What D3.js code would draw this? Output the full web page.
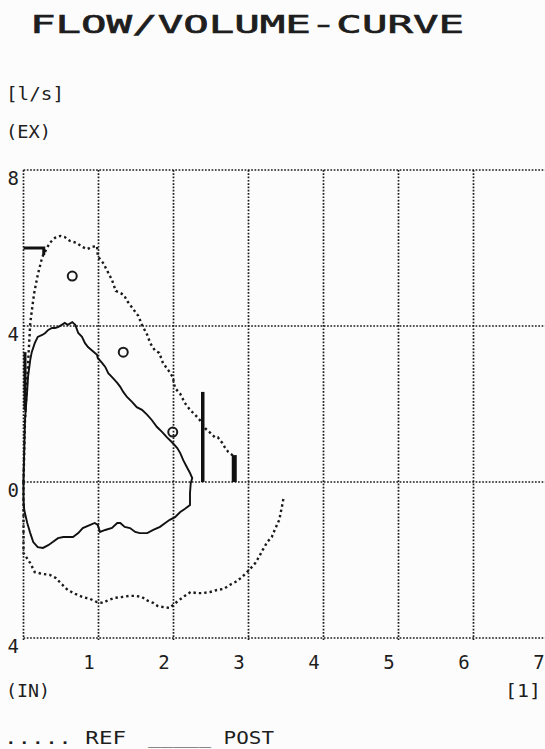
<!DOCTYPE html>
<html>
<head>
<meta charset="utf-8">
<script src="https://cdn.jsdelivr.net/npm/d3@7"></script>
<style>
  html, body { margin: 0; padding: 0; background: #fcfcfc; }
  svg { display: block; }
  text { font-family: 'DejaVu Sans Mono', monospace; fill: #1e1e1e; }
</style>
</head>
<body>
<div class="chart"></div>
<script>
'use strict';

// Data (volume [l], flow [l/s])
const xTicks = [1, 2, 3, 4, 5, 6, 7];
const xTickLabels = ['1', '2', '3', '4', '5', '6', '7'];
const yTicks = [8, 4, 0, -4];
const yTickLabels = ['8', '4', '0', '4'];

// REF curve (dotted)
const refVolume = [0, 0.02, 0.09, 0.14, 0.19, 0.25, 0.35, 0.42, 0.49, 0.55, 0.62, 0.71, 0.78, 0.85, 0.91, 0.98,
  0.99, 1.06, 1.11, 1.18, 1.23, 1.29, 1.34, 1.39, 1.46, 1.53, 1.58, 1.65, 1.69, 1.75, 1.81, 1.86, 1.93, 1.99,
  2.02, 2.09, 2.15, 2.22, 2.29, 2.35, 2.42, 2.49, 2.55, 2.59, 2.65, 2.69, 2.73, 2.80];
const refFlow = [0, 1.59, 4.08, 4.82, 5.31, 5.77, 6.13, 6.26, 6.31, 6.28, 6.18, 6.13, 6.03, 5.97, 6.03, 6.05,
  5.79, 5.62, 5.44, 5.18, 4.90, 4.85, 4.79, 4.62, 4.44, 4.26, 4.03, 3.77, 3.56, 3.38, 3.31, 3.05, 2.87, 2.69,
  2.41, 2.26, 2.03, 1.85, 1.72, 1.59, 1.38, 1.26, 1.15, 1.15, 1.00, 0.87, 0.77, 0.67];
const refInVolume = [0, 0, 0.09, 0.15, 0.26, 0.35, 0.43, 0.51, 0.59, 0.69, 0.79, 0.89, 0.98, 1.06, 1.13, 1.22,
  1.31, 1.41, 1.50, 1.58, 1.66, 1.73, 1.79, 1.87, 1.95, 2.01, 2.06, 2.15, 2.23, 2.31, 2.39, 2.49, 2.58, 2.67,
  2.75, 2.83, 2.90, 2.97, 3.03, 3.09, 3.14, 3.19, 3.25, 3.31, 3.35, 3.41, 3.45, 3.47];
const refInFlow = [0, -1.82, -2.08, -2.31, -2.36, -2.38, -2.46, -2.62, -2.77, -2.87, -2.95, -3.00, -3.08, -3.10,
  -3.03, -2.97, -2.95, -2.92, -2.92, -2.95, -3.05, -3.10, -3.18, -3.21, -3.23, -3.13, -3.05, -2.92, -2.82,
  -2.85, -2.85, -2.82, -2.77, -2.74, -2.64, -2.56, -2.46, -2.33, -2.21, -2.08, -1.92, -1.74, -1.54, -1.41,
  -1.23, -0.97, -0.59, -0.38];

// POST curve (solid loop)
const postVolume = [0, 0.02, 0.05, 0.06, 0.09, 0.11, 0.15, 0.19, 0.25, 0.29, 0.33, 0.38, 0.42, 0.46, 0.51, 0.55,
  0.59, 0.65, 0.69, 0.73, 0.78, 0.82, 0.86, 0.91, 0.98, 0.99, 1.05, 1.09, 1.13, 1.19, 1.25, 1.29, 1.33, 1.38,
  1.45, 1.51, 1.58, 1.65, 1.71, 1.78, 1.85, 1.91, 1.99, 2.05, 2.09, 2.13, 2.17, 2.22, 2.25, 2.23, 2.22, 2.22,
  2.15, 2.09, 2.02, 1.95, 1.89, 1.82, 1.73, 1.65, 1.55, 1.49, 1.42, 1.35, 1.29, 1.25, 1.18, 1.09, 1.02, 0.99,
  0.95, 0.89, 0.79, 0.73, 0.66, 0.53, 0.46, 0.39, 0.33, 0.26, 0.19, 0.13, 0.09, 0.05, 0.01, 0, 0];
const postFlow = [0, 1.59, 2.36, 2.69, 3.13, 3.33, 3.56, 3.72, 3.77, 3.82, 3.90, 3.95, 3.95, 3.97, 4.03, 4.08,
  4.03, 4.10, 4.03, 3.82, 3.72, 3.56, 3.46, 3.38, 3.26, 3.18, 3.05, 2.95, 2.79, 2.67, 2.54, 2.44, 2.31, 2.18,
  2.05, 1.92, 1.85, 1.72, 1.59, 1.41, 1.28, 1.15, 1.00, 0.87, 0.74, 0.56, 0.41, 0.23, 0.10, -0.03, -0.28, -0.59,
  -0.69, -0.77, -0.90, -0.97, -1.05, -1.15, -1.23, -1.31, -1.31, -1.28, -1.18, -1.15, -1.05, -1.05, -1.18,
  -1.23, -1.28, -1.10, -1.05, -1.10, -1.18, -1.31, -1.41, -1.41, -1.44, -1.54, -1.62, -1.69, -1.67, -1.54,
  -1.31, -1.05, -0.72, -0.46, 0];

// Predicted values (circles)
const predVolume = [0.65, 1.33, 1.99];
const predFlow = [5.28, 3.33, 1.28];

// Thick markers: volume, flow from, flow to
const barVolume = [0.02, 2.39, 2.81];
const barFrom = [1.85, 0, 0];
const barTo = [3.33, 2.31, 0.69];

// PEF marker
const pefVolume = [0, 0.27, 0.27];
const pefFlow = [6.0, 6.0, 5.82];

// Layout
const w = 545;
const h = 749;
const plotLeft = 23.5;
const plotTop = 170;
const plotBottom = 638;

const svg = d3.select('.chart')
  .append('svg')
  .attr('width', w)
  .attr('height', h);

const x = d3.scaleLinear().domain([0, 7]).range([plotLeft, plotLeft + 525]);
const y = d3.scaleLinear().domain([-4, 8]).range([plotBottom, plotTop]);

// Dotted grid
const grid = svg.append('g')
  .attr('stroke', '#1a1a1a')
  .attr('stroke-width', 1.7)
  .attr('stroke-dasharray', '1.7,1.6');

grid.selectAll('.vgrid')
  .data([0].concat(xTicks))
  .enter()
  .append('line')
  .attr('x1', d => x(d)).attr('x2', d => x(d))
  .attr('y1', y(8)).attr('y2', y(-4) + 2);

grid.selectAll('.hgrid')
  .data(yTicks)
  .enter()
  .append('line')
  .attr('x1', x(0)).attr('x2', w)
  .attr('y1', d => y(d)).attr('y2', d => y(d));

// Axes (labels only)
const xAxis = d3.axisBottom(x)
  .tickValues(xTicks)
  .tickSize(0)
  .tickFormat((d, i) => xTickLabels[i]);

const gx = svg.append('g')
  .attr('transform', `translate(0, ${plotBottom + 14})`)
  .call(xAxis);
gx.select('.domain').remove();
gx.selectAll('text')
  .attr('dx', -10)
  .style('font-size', '19px')
  .style('font-family', "'DejaVu Sans Mono', monospace")
  .attr('fill', '#1e1e1e');

const yAxis = d3.axisLeft(y)
  .tickValues(yTicks)
  .tickSize(0)
  .tickFormat((d, i) => yTickLabels[i]);

const gy = svg.append('g')
  .attr('transform', `translate(${plotLeft - 1.5}, 0)`)
  .call(yAxis);
gy.select('.domain').remove();
gy.selectAll('text')
  .attr('dy', 14)
  .style('font-size', '19px')
  .style('font-family', "'DejaVu Sans Mono', monospace")
  .attr('fill', '#1e1e1e');

// Curves
const line = d3.line()
  .x(d => x(d[0]))
  .y(d => y(d[1]));

const refOut = refVolume.map((v, i) => [v, refFlow[i]]);
const refIn = refInVolume.map((v, i) => [v, refInFlow[i]]);
const post = postVolume.map((v, i) => [v, postFlow[i]]);

svg.selectAll('.ref')
  .data([refOut, refIn])
  .enter()
  .append('path')
  .attr('d', line)
  .attr('fill', 'none')
  .attr('stroke', '#1a1a1a')
  .attr('stroke-width', 2.4)
  .attr('stroke-dasharray', '2.4,3');

svg.append('path')
  .datum(post)
  .attr('d', line)
  .attr('fill', 'none')
  .attr('stroke', '#111')
  .attr('stroke-width', 1.9)
  .attr('stroke-linejoin', 'miter');

// Markers
svg.selectAll('.bar')
  .data(barVolume)
  .enter()
  .append('line')
  .attr('x1', d => x(d)).attr('x2', d => x(d))
  .attr('y1', (d, i) => y(barFrom[i]))
  .attr('y2', (d, i) => y(barTo[i]))
  .attr('stroke', '#111')
  .attr('stroke-width', (d, i) => [3, 3.5, 5][i]);

svg.append('path')
  .datum(pefVolume.map((v, i) => [v, pefFlow[i]]))
  .attr('d', line)
  .attr('fill', 'none')
  .attr('stroke', '#111')
  .attr('stroke-width', 3);

svg.selectAll('.pred')
  .data(predVolume)
  .enter()
  .append('circle')
  .attr('cx', d => x(d))
  .attr('cy', (d, i) => y(predFlow[i]))
  .attr('r', 4.5)
  .attr('fill', 'none')
  .attr('stroke', '#1a1a1a')
  .attr('stroke-width', 2);

// Texts
svg.append('text')
  .attr('x', 30).attr('y', 33)
  .attr('textLength', 434)
  .attr('lengthAdjust', 'spacingAndGlyphs')
  .style('font-size', '24px')
  .style('stroke', '#1e1e1e')
  .style('stroke-width', 0.6)
  .text('FLOW/VOLUME-CURVE');

const labels = [
  { t: '[l/s]', x: 6, y: 100, len: 58 },
  { t: '(EX)', x: 6, y: 138, len: 45 },
  { t: '(IN)', x: 6, y: 697, len: 44 },
  { t: '[1]', x: 505, y: 697, len: 36 },
  { t: '..... REF', x: 4, y: 744, len: 122 },
  { t: '_____ POST', x: 148, y: 744, len: 126 }
];

svg.selectAll('.label')
  .data(labels)
  .enter()
  .append('text')
  .attr('x', d => d.x)
  .attr('y', d => d.y)
  .attr('textLength', d => d.len)
  .attr('lengthAdjust', 'spacingAndGlyphs')
  .style('font-size', '17px')
  .text(d => d.t);
</script>
</body>
</html>
